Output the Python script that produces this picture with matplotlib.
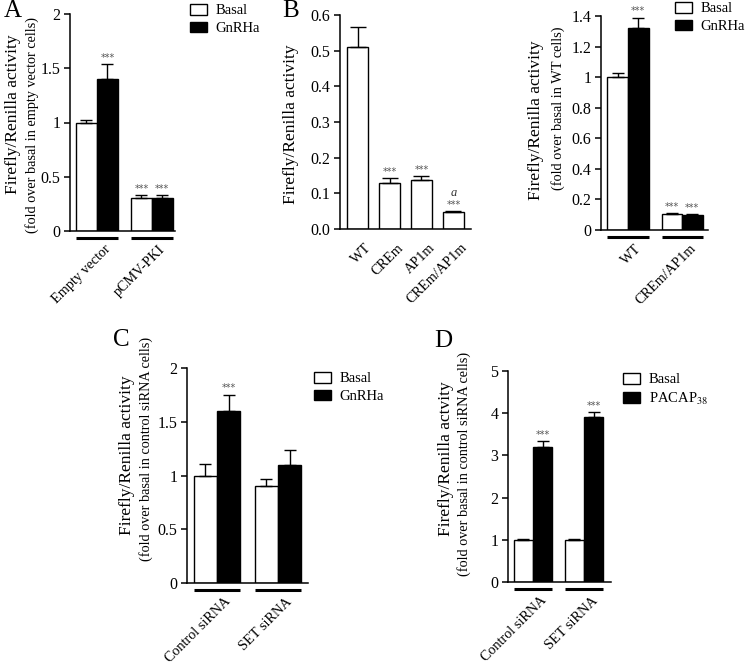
import matplotlib
matplotlib.use("Agg")
import matplotlib.pyplot as plt
import matplotlib.transforms as mtransforms
from matplotlib.patches import Patch
import numpy as np

plt.rcParams['font.family'] = ['Liberation Serif', 'DejaVu Serif']
plt.rcParams['mathtext.fontset'] = 'stix'

# ---------------- data ----------------
# Panel A
a_groups = ["Empty vector", "pCMV-PKI"]
a_basal = [1.00, 0.30]
a_basal_err = [0.02, 0.03]
a_gnrh = [1.40, 0.30]
a_gnrh_err = [0.14, 0.03]
a_yticks = [0, 0.5, 1, 1.5, 2]

# Panel B (left)
b_groups = ["WT", "CREm", "AP1m", "CREm/AP1m"]
b_vals = [0.51, 0.13, 0.138, 0.047]
b_err = [0.055, 0.013, 0.010, 0.003]
b_yticks = [0.0, 0.1, 0.2, 0.3, 0.4, 0.5, 0.6]

# Panel B (right)
b2_groups = ["WT", "CREm/AP1m"]
b2_basal = [1.00, 0.105]
b2_basal_err = [0.03, 0.005]
b2_gnrh = [1.32, 0.10]
b2_gnrh_err = [0.07, 0.005]
b2_yticks = [0, 0.2, 0.4, 0.6, 0.8, 1, 1.2, 1.4]

# Panel C
c_groups = ["Control siRNA", "SET siRNA"]
c_basal = [1.00, 0.90]
c_basal_err = [0.11, 0.07]
c_gnrh = [1.60, 1.10]
c_gnrh_err = [0.15, 0.14]
c_yticks = [0, 0.5, 1, 1.5, 2]

# Panel D
d_groups = ["Control siRNA", "SET siRNA"]
d_basal = [1.00, 1.00]
d_basal_err = [0.01, 0.01]
d_pacap = [3.20, 3.90]
d_pacap_err = [0.13, 0.13]
d_yticks = [0, 1, 2, 3, 4, 5]

W, H = 745, 665
fig = plt.figure(figsize=(W / 100, H / 100), dpi=100)


def add_ax(l, t, r, b):
    return fig.add_axes([l / W, 1 - b / H, (r - l) / W, (b - t) / H])


def style(ax, yticks, fmt):
    for s in ['top', 'right']:
        ax.spines[s].set_visible(False)
    for s in ['left', 'bottom']:
        ax.spines[s].set_linewidth(1.1)
    ax.set_ylim(yticks[0], yticks[-1])
    ax.set_yticks(yticks)
    ax.set_yticklabels([fmt(v) for v in yticks], fontsize=11.5)
    ax.tick_params(axis='y', length=4, width=1.1, pad=3)
    ax.set_xticks([])


def stars(ax, x, y, extra=None):
    ax.annotate("***", (x, y), xytext=(0, 1), textcoords='offset points',
                ha='center', va='bottom', fontsize=7, color='#555555',
                family='DejaVu Sans')
    if extra:
        ax.annotate(extra, (x, y), xytext=(0, 9), textcoords='offset points',
                    ha='center', va='bottom', fontsize=9, color='#333333',
                    style='italic')


def xlabels(ax, centers, labels):
    trans = ax.get_xaxis_transform()
    off = mtransforms.ScaledTranslation(7 / 100, -12 / 100, fig.dpi_scale_trans)
    for c, lab in zip(centers, labels):
        ax.text(c, 0, lab, transform=trans + off, rotation=45, ha='right',
                va='top', rotation_mode='anchor', fontsize=10.3)


def underlines(ax, spans, ax_h_px):
    trans = ax.get_xaxis_transform()
    y = -6.5 / ax_h_px
    for x0, x1 in spans:
        ax.plot([x0, x1], [y, y], transform=trans, color='black', lw=2.2,
                clip_on=False, solid_capstyle='butt')


def grouped(ax, basal, berr, treat, terr, w):
    x = np.arange(len(basal))
    ax.bar(x - w / 2, basal, w, color='white', edgecolor='black', lw=1.0)
    ax.bar(x + w / 2, treat, w, color='black', edgecolor='black', lw=1.0)
    ax.errorbar(x - w / 2, basal, yerr=[np.zeros(len(basal)), berr], fmt='none',
                ecolor='black', elinewidth=1.0, capsize=w * 12, capthick=1.0)
    ax.errorbar(x + w / 2, treat, yerr=[np.zeros(len(treat)), terr], fmt='none',
                ecolor='black', elinewidth=1.0, capsize=w * 12, capthick=1.0)
    return x


def legend(x, y, labels):
    handles = [Patch(facecolor='white', edgecolor='black', lw=1.0),
               Patch(facecolor='black', edgecolor='black', lw=1.0)]
    fig.legend(handles, labels, loc='upper left',
               bbox_to_anchor=(x / W, 1 - y / H), frameon=False,
               fontsize=10.5, handlelength=1.15, handleheight=0.75,
               handletextpad=0.6, labelspacing=0.3, borderpad=0,
               borderaxespad=0)


def ylab(x, y, text, size):
    fig.text(x / W, 1 - y / H, text, rotation=90, ha='center', va='center',
             fontsize=size)


def letter(x, y, s):
    fig.text(x / W, 1 - y / H, s, fontsize=18, va='top', ha='left')


g = lambda v: "%g" % v
f1 = lambda v: "%.1f" % v

# ---------------- Panel A ----------------
axA = add_ax(70, 14, 175, 231)
w = 0.38
x = grouped(axA, a_basal, a_basal_err, a_gnrh, a_gnrh_err, w)
axA.set_xlim(-0.49, 1.42)
style(axA, a_yticks, g)
stars(axA, x[0] + w / 2, a_gnrh[0] + a_gnrh_err[0])
stars(axA, x[1] - w / 2, a_basal[1] + a_basal_err[1])
stars(axA, x[1] + w / 2, a_gnrh[1] + a_gnrh_err[1])
underlines(axA, [(xi - w, xi + w) for xi in x], 217)
xlabels(axA, x, a_groups)
ylab(13, 114, "Firefly/Renilla activity", 12.5)
ylab(32, 125, "(fold over basal in empty vector cells)", 10.3)
legend(190, 4, ["Basal", "GnRHa"])
letter(4, 0, "A")

# ---------------- Panel B left ----------------
axB = add_ax(340, 15, 471, 229)
xb = np.arange(len(b_vals))
wb = 0.66
axB.bar(xb, b_vals, wb, color='white', edgecolor='black', lw=1.0)
axB.errorbar(xb, b_vals, yerr=[np.zeros(len(b_vals)), b_err], fmt='none',
             ecolor='black', elinewidth=1.0, capsize=6, capthick=1.0)
axB.set_xlim(-0.55, 3.55)
style(axB, b_yticks, f1)
for i in range(1, 4):
    stars(axB, xb[i], b_vals[i] + b_err[i], extra='a' if i == 3 else None)
xlabels(axB, xb, b_groups)
ylab(291, 124, "Firefly/Renilla activity", 12.5)
letter(282, 0, "B")

# ---------------- Panel B right ----------------
axB2 = add_ax(601, 16, 708, 230)
x = grouped(axB2, b2_basal, b2_basal_err, b2_gnrh, b2_gnrh_err, w)
axB2.set_xlim(-0.5, 1.48)
style(axB2, b2_yticks, g)
stars(axB2, x[0] + w / 2, b2_gnrh[0] + b2_gnrh_err[0])
stars(axB2, x[1] - w / 2, b2_basal[1] + b2_basal_err[1])
stars(axB2, x[1] + w / 2, b2_gnrh[1] + b2_gnrh_err[1])
underlines(axB2, [(xi - w, xi + w) for xi in x], 214)
xlabels(axB2, x, b2_groups)
ylab(536, 120, "Firefly/Renilla activity", 12.5)
ylab(558, 108, "(fold over basal in WT cells)", 10.3)
legend(675, 2, ["Basal", "GnRHa"])

# ---------------- Panel C ----------------
axC = add_ax(187, 368, 308, 583)
x = grouped(axC, c_basal, c_basal_err, c_gnrh, c_gnrh_err, w)
axC.set_xlim(-0.49, 1.49)
style(axC, c_yticks, g)
stars(axC, x[0] + w / 2, c_gnrh[0] + c_gnrh_err[0])
underlines(axC, [(xi - w, xi + w) for xi in x], 215)
xlabels(axC, x, c_groups)
ylab(127, 455, "Firefly/Renilla activity", 12.5)
ylab(146, 449, "(fold over basal in control siRNA cells)", 10.3)
legend(314, 372, ["Basal", "GnRHa"])
letter(113, 329, "C")

# ---------------- Panel D ----------------
axD = add_ax(508, 371, 611, 582)
x = grouped(axD, d_basal, d_basal_err, d_pacap, d_pacap_err, w)
axD.set_xlim(-0.49, 1.53)
style(axD, d_yticks, g)
stars(axD, x[0] + w / 2, d_pacap[0] + d_pacap_err[0])
stars(axD, x[1] + w / 2, d_pacap[1] + d_pacap_err[1])
underlines(axD, [(xi - w, xi + w) for xi in x], 211)
xlabels(axD, x, d_groups)
ylab(446, 459, "Firefly/Renilla actvity", 12.5)
ylab(464, 464, "(fold over basal in control siRNA cells)", 10.3)
legend(623, 373, ["Basal", "PACAP$_{38}$"])
letter(434, 330, "D")

fig.savefig("out.png", dpi=100, facecolor='white')
